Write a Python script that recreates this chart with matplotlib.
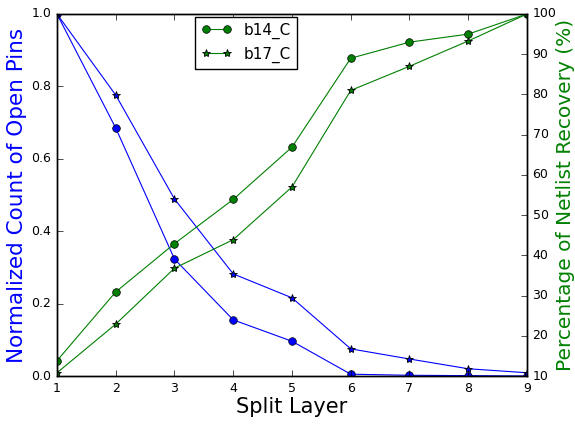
import matplotlib
matplotlib.use("Agg")
import matplotlib.pyplot as plt

plt.style.use("classic")

# Data
layers = [1, 2, 3, 4, 5, 6, 7, 8, 9]

# normalized count of open pins (left axis)
pins_b14 = [1.0, 0.685, 0.323, 0.155, 0.096, 0.005, 0.002, 0.001, 0.0]
pins_b17 = [1.0, 0.776, 0.489, 0.282, 0.216, 0.075, 0.047, 0.020, 0.009]

# percentage of netlist recovery (right axis)
recov_b14 = [13.8, 30.9, 42.9, 53.9, 66.9, 89.0, 93.0, 95.0, 100.0]
recov_b17 = [10.8, 22.9, 36.8, 43.9, 57.0, 81.0, 87.0, 93.3, 100.0]

fig = plt.figure(figsize=(5.75, 4.24), dpi=100, facecolor="white")
ax = fig.add_axes([0.0991, 0.1132, 0.8174, 0.8538])
ax2 = ax.twinx()

LW = 0.8

# left axis: open pins
ax.plot(layers, pins_b14, color="b", lw=LW, marker="o", ms=5.5, mec="k", mew=0.5, label="b14_C")
ax.plot(layers, pins_b17, color="b", lw=LW, marker="*", ms=6, mec="k", mew=0.6, label="b17_C")
ax.set_xlim(1, 9)
ax.set_ylim(0, 1.0)
ax.set_xlabel("Split Layer", fontsize=15, labelpad=2)
ax.set_ylabel("Normalized Count of Open Pins", fontsize=15.5, color="b", labelpad=3)
ax.tick_params(labelsize=9)

# right axis: netlist recovery
ax2.plot(layers, recov_b14, color="g", lw=LW, marker="o", ms=5.5, mec="k", mew=0.5, label="b14_C")
ax2.plot(layers, recov_b17, color="g", lw=LW, marker="*", ms=6, mec="k", mew=0.6, label="b17_C")
ax2.set_xlim(1, 9)
ax2.set_ylim(10, 100)
ax2.set_ylabel("Percentage of Netlist Recovery (%)", fontsize=14.5, color="g", labelpad=0)
ax2.tick_params(labelsize=9)

ax2.legend(loc="upper left", bbox_to_anchor=(0.294, 0.993), borderaxespad=0,
           numpoints=2, fontsize=11)

fig.savefig("out.png", dpi=100, facecolor="white")
